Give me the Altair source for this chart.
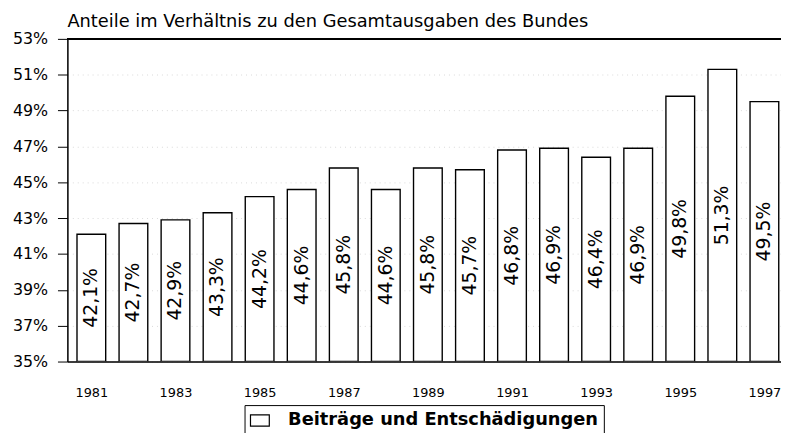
import altair as alt
import pandas as pd

# ---- data ----
years = list(range(1981, 1998))
values = [42.1, 42.7, 42.9, 43.3, 44.2, 44.6, 45.8, 44.6, 45.8, 45.7,
          46.8, 46.9, 46.4, 46.9, 49.8, 51.3, 49.5]
labels = ["42,1%", "42,7%", "42,9%", "43,3%", "44,2%", "44,6%", "45,8%",
          "44,6%", "45,8%", "45,7%", "46,8%", "46,9%", "46,4%", "46,9%",
          "49,8%", "51,3%", "49,5%"]
series_name = "Beiträge und Entschädigungen"
y_ticks = [35, 37, 39, 41, 43, 45, 47, 49, 51, 53]
x_label_years = [1981, 1983, 1985, 1987, 1989, 1991, 1993, 1995, 1997]
title_text = "Anteile im Verhältnis zu den Gesamtausgaben des Bundes"

df = pd.DataFrame({"Jahr": years, "Anteil": values, "Label": labels,
                   "Reihe": [series_name] * len(years)})

FONT = "DejaVu Sans"

x_scale = alt.Scale(domain=[1980.548, 1997.277], nice=False, zero=False)
y_scale = alt.Scale(domain=[35, 53], nice=False, zero=False)


def x_axis():
    return alt.Axis(values=x_label_years, tickCount=40, format="d", title=None,
                    grid=False, ticks=False, labelPadding=25, labelFont=FONT,
                    labelFontSize=13, labelColor="black", labelOverlap=False,
                    domainColor="black", domainWidth=1.5)


def y_axis():
    return alt.Axis(values=y_ticks, tickCount=40, labelExpr="datum.value + '%'",
                    title=None, tickSize=10, tickColor="black", tickWidth=1,
                    labelPadding=10, labelFont=FONT, labelFontSize=16,
                    labelColor="black", labelOverlap=False, labelBound=False,
                    domainColor="black", domainWidth=1.5,
                    grid=True, gridColor="#dadada", gridDash=[1, 4])


bars = alt.Chart(df).mark_bar(width=29, stroke="black", strokeWidth=1.4,
                              clip=True).encode(
    x=alt.X("Jahr:Q", scale=x_scale, axis=x_axis()),
    y=alt.Y("Anteil:Q", scale=y_scale, axis=y_axis()),
    y2=alt.datum(35),
    fill=alt.Fill("Reihe:N", scale=alt.Scale(range=["white"]),
                  legend=alt.Legend(
                      title=None, orient="none", legendX=179, legendY=370,
                      strokeColor="black", padding=5,
                      labelFont=FONT, labelFontSize=18, labelFontWeight="bold",
                      labelColor="black", labelOffset=18, labelLimit=0,
                      symbolType="M-1,-0.6L1,-0.6L1,0.6L-1,0.6Z",
                      symbolSize=361, symbolStrokeColor="black",
                      symbolStrokeWidth=1.2, symbolFillColor="white")),
)

text = alt.Chart(df).transform_calculate(
    mid="(datum.Anteil + 35) / 2"
).mark_text(angle=270, font=FONT, fontSize=19, color="black",
            clip=True).encode(
    x=alt.X("Jahr:Q", scale=x_scale, axis=x_axis()),
    y=alt.Y("mid:Q", scale=y_scale, axis=y_axis()),
    text="Label:N",
)

top = alt.Chart(df).mark_rule(color="black", strokeWidth=1.5).encode(
    y=alt.datum(53)
)

chart = alt.layer(bars, text, top).properties(
    width=721, height=326,
    padding={"left": 60, "top": 29, "right": 0, "bottom": 70},
    autosize=alt.AutoSizeParams(type="none"),
    title=alt.TitleParams(title_text, anchor="start", frame="group", font=FONT,
                          fontSize=18, fontWeight="normal", color="black",
                          offset=0),
).configure_view(stroke=None).configure_axis(
    labelOverlap=False
).configure(background="white")

chart.save("out.html", embed_options={"renderer": "svg", "actions": False})
